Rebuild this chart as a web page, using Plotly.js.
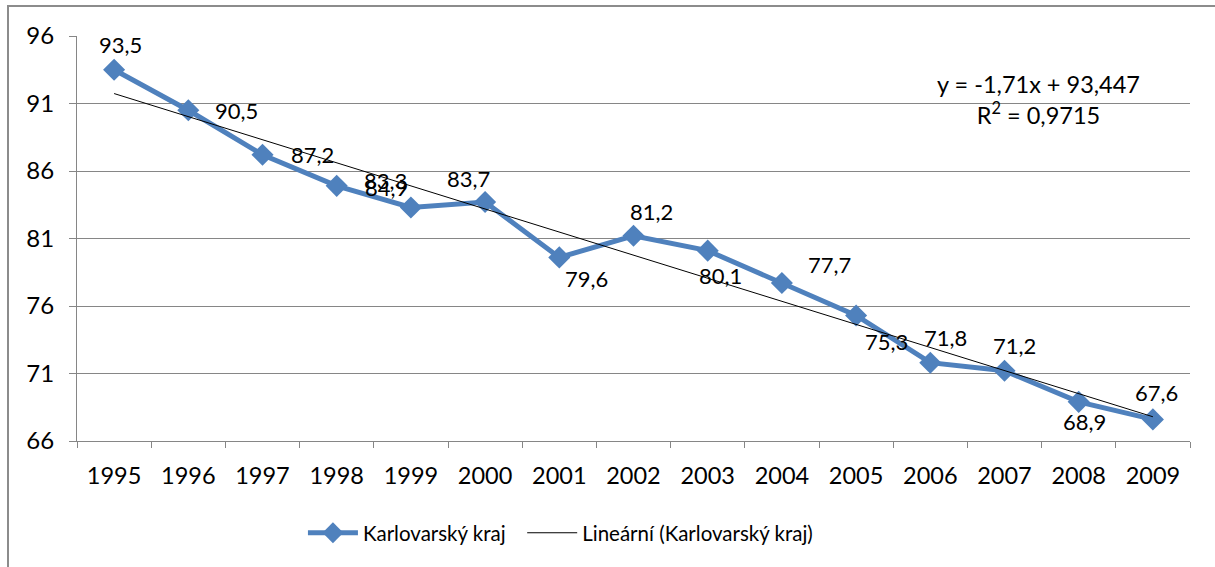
<!DOCTYPE html>
<html>
<head>
<meta charset="utf-8">
<script src="https://cdn.plot.ly/plotly-3.0.1.min.js"></script>
<style>
html,body{margin:0;padding:0;background:#fff;}
#chart{width:1215px;height:567px;}
</style>
</head>
<body>
<div id="chart"></div>
<script>
// ---- data ----
const years = ["1995","1996","1997","1998","1999","2000","2001","2002","2003","2004","2005","2006","2007","2008","2009"];
const values = [93.5, 90.5, 87.2, 84.9, 83.3, 83.7, 79.6, 81.2, 80.1, 77.7, 75.3, 71.8, 71.2, 68.9, 67.6];
const seriesName = "Karlovarský kraj";
const trendName = "Lineární (Karlovarský kraj)";
const equationText = "y = -1,71x + 93,447";
const r2Text = "R<sup>2</sup> = 0,9715";
const yTicks = [66, 71, 76, 81, 86, 91, 96];

// label offsets (pixels, style only)
const labelDx = [6, 48, 50, 50, -25, -17, 27, 18, 13, 48, 30, 15, 10, 6, 4];
const labelDy = [-25, 0, 0, 2, -27, -24, 21, -24, 25, -19, 26, -25, -25, 20, -27];

// ---- linear trend (least squares from data) ----
const n = values.length;
const xs = values.map((_, i) => i + 1);
const mx = xs.reduce((a, b) => a + b, 0) / n;
const my = values.reduce((a, b) => a + b, 0) / n;
let sxy = 0, sxx = 0;
for (let i = 0; i < n; i++) { sxy += (xs[i] - mx) * (values[i] - my); sxx += (xs[i] - mx) ** 2; }
const slope = sxy / sxx;
const intercept = my - slope * mx;
const trend = xs.map(x => intercept + slope * x);

const FONT = "Lato, 'Open Sans', sans-serif";
const fmt = v => v.toFixed(1).replace('.', ',');

const traces = [
  {
    x: years, y: values, name: seriesName, type: "scatter", mode: "lines+markers",
    line: {color: "#4F81BD", width: 5},
    marker: {symbol: "diamond", size: 17, color: "#4F81BD"},
    hoverinfo: "skip", legend: "legend"
  },
  {
    x: years, y: trend, name: trendName, type: "scatter", mode: "lines",
    line: {color: "#000000", width: 1},
    hoverinfo: "skip", legend: "legend2"
  }
];

const annotations = [];
for (let i = 0; i < n; i++) {
  annotations.push({
    x: i, y: values[i], xref: "x", yref: "y",
    text: fmt(values[i]), showarrow: false,
    xanchor: "center", yanchor: "middle",
    xshift: labelDx[i], yshift: -labelDy[i],
    font: {family: FONT, size: 22, color: "#000000"}
  });
}
annotations.push({
  xref: "paper", yref: "paper", x: 0.8635, y: 0.844,
  xanchor: "center", yanchor: "middle", showarrow: false,
  text: equationText + "<br>" + r2Text,
  font: {family: FONT, size: 23.5, color: "#000000"}
});

const legendCommon = {
  orientation: "h", xanchor: "left", y: -0.227, yanchor: "middle",
  font: {family: FONT, size: 20.5, color: "#000"},
  itemwidth: 50, bgcolor: "rgba(0,0,0,0)"
};

const layout = {
  width: 1215, height: 567,
  margin: {l: 77, r: 25, t: 36, b: 126},
  paper_bgcolor: "#fff", plot_bgcolor: "#fff",
  font: {family: FONT, color: "#000"},
  showlegend: true,
  legend: Object.assign({}, legendCommon, {x: 0.203}),
  legend2: Object.assign({}, legendCommon, {x: 0.4}),
  xaxis: {
    type: "category", range: [-0.5, 14.5],
    showgrid: false, zeroline: false,
    showline: true, linecolor: "#868686", linewidth: 1,
    ticks: "outside", ticklen: 6, tickcolor: "#868686", tickson: "boundaries",
    tickfont: {family: FONT, size: 23.5, color: "#000"},
    ticklabelstandoff: 14,
    fixedrange: true
  },
  yaxis: {
    range: [66, 96], tickvals: yTicks, ticktext: yTicks.map(String),
    showgrid: true, gridcolor: "#868686", gridwidth: 1,
    zeroline: false, showline: true, linecolor: "#868686", linewidth: 1,
    ticks: "outside", ticklen: 7, tickcolor: "#868686",
    tickfont: {family: FONT, size: 24, color: "#000"},
    ticklabelstandoff: 10,
    fixedrange: true
  },
  annotations: annotations,
  shapes: [{
    type: "rect", xref: "paper", yref: "paper",
    x0: (8 - 77) / 1113, x1: 1.1, y0: -0.5, y1: (441 - 6) / 405,
    line: {color: "#8c8c8c", width: 2}, fillcolor: "rgba(0,0,0,0)", layer: "below"
  }]
};

Plotly.newPlot("chart", traces, layout, {displayModeBar: false, staticPlot: true});
</script>
</body>
</html>
